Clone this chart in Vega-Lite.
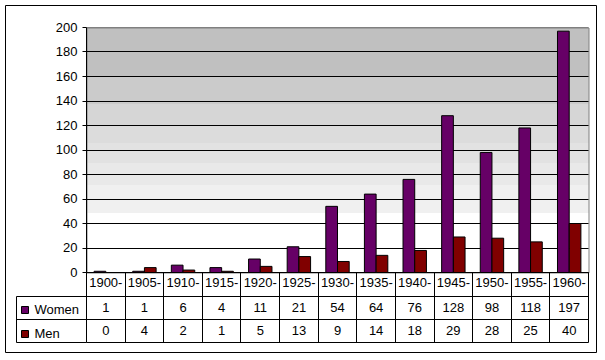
{
  "$schema": "https://vega.github.io/schema/vega-lite/v6.json",
  "width": 502,
  "height": 245,
  "autosize": "none",
  "padding": {"left": 86.5, "top": 27.5, "right": 16.5, "bottom": 87.5},
  "background": "white",
  "view": {
    "fill": {
      "gradient": "linear", "x1": 0, "y1": 0, "x2": 0, "y2": 1,
      "stops": [
        {"offset": 0, "color": "#C0C0C0"}, {"offset": 0.202, "color": "#C0C0C0"},
        {"offset": 0.202, "color": "#CBCBCB"}, {"offset": 0.312, "color": "#CBCBCB"},
        {"offset": 0.312, "color": "#D6D6D6"}, {"offset": 0.398, "color": "#D6D6D6"},
        {"offset": 0.398, "color": "#DCDCDC"}, {"offset": 0.471, "color": "#DCDCDC"},
        {"offset": 0.471, "color": "#E2E2E2"}, {"offset": 0.553, "color": "#E2E2E2"},
        {"offset": 0.553, "color": "#E9E9E9"}, {"offset": 0.639, "color": "#E9E9E9"},
        {"offset": 0.639, "color": "#F0F0F0"}, {"offset": 0.757, "color": "#F0F0F0"},
        {"offset": 0.757, "color": "#FFFFFF"}, {"offset": 1, "color": "#FFFFFF"}
      ]
    },
    "stroke": "#808080",
    "strokeWidth": 1
  },
  "datasets": {
    "births": [
      {"period": "1900-", "series": "Women", "value": 1},
      {"period": "1905-", "series": "Women", "value": 1},
      {"period": "1910-", "series": "Women", "value": 6},
      {"period": "1915-", "series": "Women", "value": 4},
      {"period": "1920-", "series": "Women", "value": 11},
      {"period": "1925-", "series": "Women", "value": 21},
      {"period": "1930-", "series": "Women", "value": 54},
      {"period": "1935-", "series": "Women", "value": 64},
      {"period": "1940-", "series": "Women", "value": 76},
      {"period": "1945-", "series": "Women", "value": 128},
      {"period": "1950-", "series": "Women", "value": 98},
      {"period": "1955-", "series": "Women", "value": 118},
      {"period": "1960-", "series": "Women", "value": 197},
      {"period": "1900-", "series": "Men", "value": 0},
      {"period": "1905-", "series": "Men", "value": 4},
      {"period": "1910-", "series": "Men", "value": 2},
      {"period": "1915-", "series": "Men", "value": 1},
      {"period": "1920-", "series": "Men", "value": 5},
      {"period": "1925-", "series": "Men", "value": 13},
      {"period": "1930-", "series": "Men", "value": 9},
      {"period": "1935-", "series": "Men", "value": 14},
      {"period": "1940-", "series": "Men", "value": 18},
      {"period": "1945-", "series": "Men", "value": 29},
      {"period": "1950-", "series": "Men", "value": 28},
      {"period": "1955-", "series": "Men", "value": 25},
      {"period": "1960-", "series": "Men", "value": 40}
    ]
  },
  "data": {"name": "births"},
  "config": {
    "font": "Liberation Sans",
    "axis": {
      "translate": 0,
      "labelFont": "Liberation Sans",
      "labelFontSize": 13,
      "labelColor": "black",
      "domainColor": "black",
      "domainWidth": 1,
      "tickColor": "black",
      "tickWidth": 1,
      "gridColor": "black",
      "gridWidth": 1,
      "title": null
    },
    "legend": {
      "labelFont": "Liberation Sans",
      "labelFontSize": 13,
      "labelColor": "black"
    },
    "text": {"font": "Liberation Sans", "fontSize": 13, "color": "black"}
  },
  "layer": [
    {
      "mark": {"type": "bar", "stroke": "black", "strokeWidth": 1, "opacity": 1},
      "encoding": {
        "x": {
          "field": "period", "type": "nominal", "sort": null,
          "scale": {"paddingInner": 0, "paddingOuter": 0},
          "axis": {
            "orient": "bottom", "tickBand": "extent", "tickSize": 70,
            "labelPadding": -59.5, "labelBaseline": "middle", "labelAngle": 0,
            "labelOverlap": false, "grid": false
          }
        },
        "xOffset": {
          "field": "series", "type": "nominal", "sort": ["Women", "Men"],
          "scale": {"paddingInner": 0, "paddingOuter": 0.65}
        },
        "y": {
          "field": "value", "type": "quantitative",
          "scale": {"domain": [0, 200], "nice": false},
          "axis": {
            "orient": "left",
            "values": [0, 20, 40, 60, 80, 100, 120, 140, 160, 180, 200],
            "tickSize": 4, "labelPadding": 5, "grid": true,
            "gridColor": {"condition": {"test": "datum.value === 200", "value": "#808080"}, "value": "black"}
          }
        },
        "color": {
          "field": "series", "type": "nominal",
          "scale": {"domain": ["Women", "Men"], "range": ["#660066", "#800000"]},
          "legend": {
            "orient": "none", "legendX": -68, "legendY": 276, "title": null,
            "direction": "vertical", "symbolType": "square", "symbolSize": 49,
            "symbolStrokeColor": "black", "symbolStrokeWidth": 1, "symbolOpacity": 1,
            "labelOffset": 3, "rowPadding": 10, "padding": 0
          }
        }
      }
    },
    {
      "layer": [
        {
          "mark": {"type": "text", "baseline": "middle", "align": "center"},
          "encoding": {
            "x": {
              "field": "period", "type": "nominal", "sort": null,
              "scale": {"paddingInner": 0, "paddingOuter": 0}, "axis": null
            },
            "y": {
              "field": "series", "type": "nominal", "sort": ["Women", "Men"],
              "scale": {"domain": ["Women", "Men"], "range": [269, 315], "paddingInner": 0, "paddingOuter": 0},
              "axis": {
                "orient": "left", "tickBand": "extent", "tickSize": 70,
                "labels": false, "domain": false, "grid": true
              }
            },
            "text": {"field": "value", "type": "quantitative"}
          }
        },
        {
          "mark": {"type": "text", "opacity": 0},
          "encoding": {
            "x": {"field": "period", "type": "nominal", "sort": null, "axis": null},
            "y": {
              "field": "series", "type": "nominal", "sort": ["Women", "Men"],
              "axis": {
                "orient": "left", "offset": 70, "ticks": false,
                "labels": false, "domain": true, "grid": false
              }
            },
            "text": {"field": "value", "type": "quantitative"}
          }
        }
      ],
      "resolve": {"axis": {"y": "independent"}}
    },
    {
      "layer": [
        {
          "mark": {"type": "point", "opacity": 0},
          "encoding": {
            "x": {
              "datum": 0.5, "type": "quantitative",
              "scale": {"domain": [0, 1], "range": [-81, 510]},
              "axis": {"orient": "bottom", "offset": 80, "grid": false, "ticks": false, "labels": false, "domain": true}
            },
            "y": {
              "datum": 0.5, "type": "quantitative",
              "scale": {"domain": [0, 1], "range": [325, -22]},
              "axis": {"orient": "left", "offset": 81, "grid": false, "ticks": false, "labels": false, "domain": true}
            }
          }
        },
        {
          "mark": {"type": "point", "opacity": 0},
          "encoding": {
            "x": {
              "datum": 0.5, "type": "quantitative",
              "axis": {"orient": "top", "offset": 22, "grid": false, "ticks": false, "labels": false, "domain": true}
            },
            "y": {
              "datum": 0.5, "type": "quantitative",
              "axis": {"orient": "right", "offset": 8, "grid": false, "ticks": false, "labels": false, "domain": true}
            }
          }
        }
      ],
      "resolve": {"axis": {"x": "independent", "y": "independent"}}
    }
  ],
  "resolve": {
    "scale": {"x": "independent", "y": "independent"},
    "axis": {"x": "independent", "y": "independent"}
  }
}
